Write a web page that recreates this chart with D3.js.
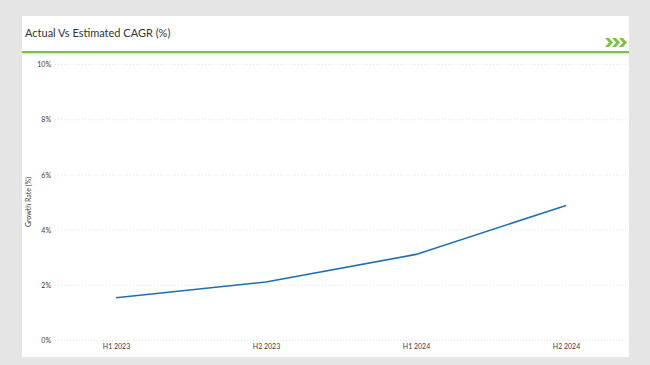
<!DOCTYPE html>
<html lang="en">
<head>
	<meta charset="utf-8">
	<title>Actual Vs Estimated CAGR</title>
	<style>
		body { margin: 0; background: #e5e5e5; }
		svg { display: block; font-family: Lato, "Open Sans", sans-serif; }
	</style>
</head>
<body>
	<script src="https://cdn.jsdelivr.net/npm/d3@7"></script>
	<script>
		const periods = ["H1 2023", "H2 2023", "H1 2024", "H2 2024"];
		const growth = [1.55, 2.12, 3.12, 4.89];
		const yTicks = [0, 2, 4, 6, 8, 10];

		const W = 650, H = 365;
		const card = { left: 22, right: 629, top: 16, bottom: 357 };

		const svg = d3.select("body").append("svg")
			.attr("width", W)
			.attr("height", H);

		// background + card
		svg.append("rect").attr("width", W).attr("height", H).attr("fill", "#e5e5e5");
		svg.append("rect")
			.attr("x", card.left).attr("y", card.top)
			.attr("width", card.right - card.left).attr("height", card.bottom - card.top)
			.attr("fill", "#fff");

		// header
		svg.append("text")
			.attr("x", 25).attr("y", 37)
			.attr("font-size", 11)
			.attr("fill", "#333")
			.text("Actual Vs Estimated CAGR (%)");

		svg.append("rect")
			.attr("x", card.left).attr("y", 51)
			.attr("width", card.right - card.left).attr("height", 2.5)
			.attr("fill", "#7dc242");
		svg.append("rect")
			.attr("x", card.left).attr("y", 53.5)
			.attr("width", card.right - card.left).attr("height", 2)
			.attr("fill", "#f1f1f1");

		// chevrons
		const chev = svg.append("g").attr("fill", "#7dc242");
		[605, 612, 619].forEach(function (cx) {
			chev.append("path")
				.attr("d", "M" + cx + ",38 L" + (cx + 4) + ",38 L" + (cx + 8) + ",42.5 L" + (cx + 4) + ",47 L" + cx + ",47 L" + (cx + 4) + ",42.5 Z");
		});

		// scales
		const x = d3.scalePoint()
			.domain(periods)
			.range([41, 641])
			.padding(0.5);

		const y = d3.scaleLinear()
			.domain([0, 10])
			.range([340.5, 64.5]);

		// grid
		svg.append("g")
			.selectAll("line")
			.data(yTicks)
			.join("line")
			.attr("x1", 55).attr("x2", 627)
			.attr("y1", d => y(d)).attr("y2", d => y(d))
			.attr("stroke", "#d9d9d9")
			.attr("stroke-width", 0.8)
			.attr("stroke-dasharray", "1,2");

		// y axis labels
		const yAxis = svg.append("g")
			.attr("transform", "translate(51,0)")
			.call(d3.axisLeft(y).tickValues(yTicks).tickSize(0).tickPadding(0).tickFormat(d => d + "%"));
		yAxis.select(".domain").remove();
		yAxis.selectAll("text")
			.attr("font-family", "Lato, sans-serif")
			.attr("font-size", 7)
			.attr("fill", "#3a3a3a");

		// x axis labels
		const xAxis = svg.append("g")
			.attr("transform", "translate(0,344)")
			.call(d3.axisBottom(x).tickSize(0).tickPadding(0));
		xAxis.select(".domain").remove();
		xAxis.selectAll("text")
			.attr("font-family", "Lato, sans-serif")
			.attr("font-size", 7)
			.attr("fill", "#3a3a3a");

		// axis title
		svg.append("text")
			.attr("transform", "translate(31,202) rotate(-90)")
			.attr("text-anchor", "middle")
			.attr("font-size", 7)
			.attr("fill", "#3a3a3a")
			.text("Growth Rate (%)");

		// line
		const line = d3.line()
			.x((d, i) => x(periods[i]))
			.y(d => y(d));

		svg.append("path")
			.datum(growth)
			.attr("d", line)
			.attr("fill", "none")
			.attr("stroke", "#1f6eb4")
			.attr("stroke-width", 1.6);
	</script>
</body>
</html>
